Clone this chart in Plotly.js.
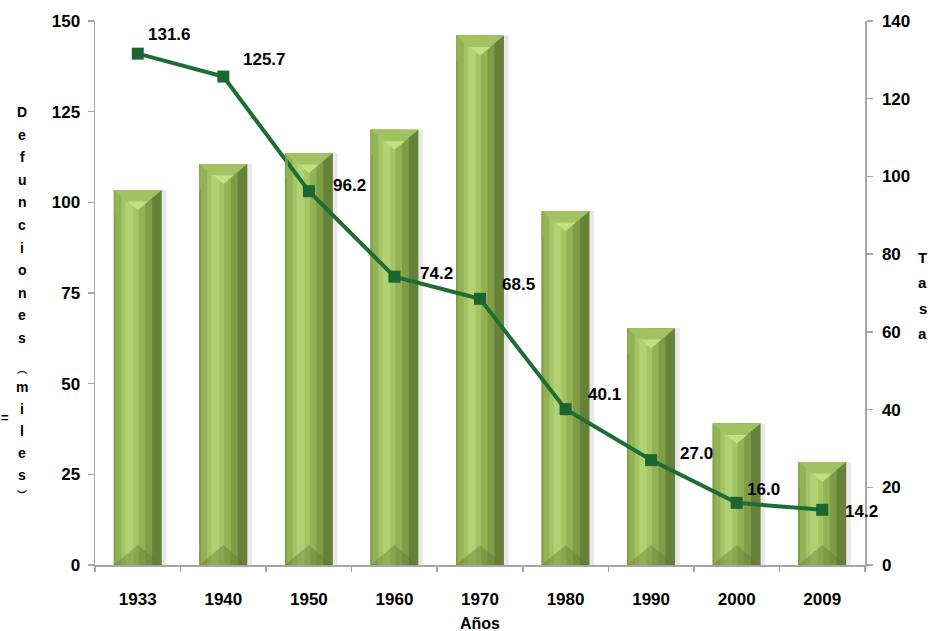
<!DOCTYPE html>
<html>
<head>
<meta charset="utf-8">
<script src="https://cdn.plot.ly/plotly-3.0.1.min.js"></script>
<style>
  html, body { margin: 0; padding: 0; background: #ffffff; }
  #chart { width: 930px; height: 631px; }
</style>
</head>
<body>
<div id="chart"></div>
<script>
// ---- data ----
const years = ['1933', '1940', '1950', '1960', '1970', '1980', '1990', '2000', '2009'];
const deaths = [103.4, 110.6, 113.6, 120, 146, 97.6, 65.3, 39, 28.4];      // Defunciones (miles)
const rate = [131.6, 125.7, 96.2, 74.2, 68.5, 40.1, 27.0, 16.0, 14.2];      // Tasa
const rateLabels = ['131.6', '125.7', '96.2', '74.2', '68.5', '40.1', '27.0', '16.0', '14.2'];
const leftTitleWord1 = 'Defunciones';
const leftTitleWord2 = 'miles';
const rightTitle = 'Tasa';
const xTitle = 'Años';

// ---- style / geometry (not data) ----
const FONT = '"Liberation Sans", Arial, sans-serif';
const labelShift = [[8, 19], [18, 17], [22, 6], [24, 3], [20, 14], [20, 15], [27, 7], [8, 13], [21, -2]];
const W = 0.56;          // bar width in category units
const Y_LEFT_MAX = 150, Y_RIGHT_MAX = 140;
const L = 95, T = 21, PW = 770, PH = 544;
const bevel = 20 * Y_LEFT_MAX / PH;   // ~20px bevel depth in y-units
const px2x = px => (px - L) / PW;
const py2y = py => (T + PH - py) / PH;

const idx = years.map((_, i) => i);

function strip(offset, width, color, name) {
  return {
    type: 'bar', x: idx, y: deaths, offset: offset, width: width,
    marker: { color: color, line: { width: 0 } }, hoverinfo: 'skip', showlegend: false, name: name
  };
}

const traces = [
  strip(-W / 2 + 0.035, W + 0.02, 'rgba(0,0,0,0.09)', 'shadow'),
  strip(-W / 2, W, '#66813a', 'body'),
  strip(-W / 2, W * 0.80, '#809d46', 'b1'),
  strip(-W / 2 + 0.02, W * 0.62, '#93b155', 'b2'),
  strip(-W / 2 + 0.09, W * 0.36, '#a5c464', 'b3'),
  strip(-W / 2 + 0.14, W * 0.16, '#b2d172', 'b4'),
  {
    type: 'scatter', mode: 'lines+markers', x: idx, y: rate, yaxis: 'y2',
    line: { color: '#1f6d35', width: 4 },
    marker: { symbol: 'square', size: 12, color: '#1b6630' },
    hoverinfo: 'skip', showlegend: false
  },
  // invisible trace so the boundary ticks axis renders
  { type: 'scatter', x: [0], y: [0], xaxis: 'x2', mode: 'markers', marker: { opacity: 0 }, hoverinfo: 'skip', showlegend: false }
];

// bevel shapes derived from data
const shapes = [];
deaths.forEach((v, i) => {
  const xl = i - W / 2, xr = i + W / 2, xc = i;
  shapes.push({
    type: 'path', xref: 'x', yref: 'y', layer: 'above',
    path: `M ${xl} ${v} L ${xr} ${v} L ${xc} ${v - bevel} Z`,
    fillcolor: '#a2c160', line: { width: 0 }
  });
  shapes.push({
    type: 'path', xref: 'x', yref: 'y', layer: 'above',
    path: `M ${xc - 0.12} ${v - bevel * 0.57} L ${xc + 0.12} ${v - bevel * 0.57} L ${xc} ${v - bevel} Z`,
    fillcolor: '#c3e183', line: { width: 0 }
  });
  shapes.push({
    type: 'path', xref: 'x', yref: 'y', layer: 'above',
    path: `M ${xl} ${v} L ${xl + 0.035} ${v} L ${xl + 0.035} ${v - bevel * 1.2} L ${xl} ${v - bevel * 1.3} Z`,
    fillcolor: 'rgba(150,185,85,0.6)', line: { width: 0 }
  });
  const bb = Math.min(bevel, v / 2);
  shapes.push({
    type: 'path', xref: 'x', yref: 'y', layer: 'above',
    path: `M ${xl} 0 L ${xr} 0 L ${xc} ${bb} Z`,
    fillcolor: 'rgba(95,120,50,0.4)', line: { width: 0 }
  });
});

// data labels
const annotations = rate.map((r, i) => ({
  x: i, y: r, xref: 'x', yref: 'y2', text: rateLabels[i], showarrow: false,
  xanchor: 'left', yanchor: 'middle', xshift: labelShift[i][0], yshift: labelShift[i][1],
  font: { family: FONT, size: 17, color: '#000000', weight: 'bold' }
}));

// stacked vertical axis titles, one letter per annotation
const letterFont = { family: FONT, size: 14, color: '#000', weight: 'bold' };
function letter(ch, px, py, size, family) {
  annotations.push({
    xref: 'paper', yref: 'paper', x: px2x(px), y: py2y(py), xanchor: 'center', yanchor: 'middle',
    text: ch, showarrow: false,
    font: Object.assign({}, letterFont, size ? { size: size } : {}, family ? { family: family } : {})
  });
}
const CJK = '"Noto Sans CJK SC", "Noto Sans CJK JP", sans-serif';
Array.from(leftTitleWord1).forEach((c, k) => letter(c, 22, 112 + 22.6 * k));
letter('︵', 22, 368, 10, CJK);
Array.from(leftTitleWord2).forEach((c, k) => letter(c, 22, 387 + 22 * k));
letter('︶', 22, 494, 10, CJK);
letter('=', 5, 417, 13);
Array.from(rightTitle).forEach((c, k) => letter(c, 923, 257 + 25.5 * k, 15));

annotations.push({
  xref: 'paper', yref: 'paper', x: px2x(480), y: py2y(623), xanchor: 'center', yanchor: 'middle',
  text: xTitle, showarrow: false,
  font: { family: FONT, size: 16, color: '#000', weight: 'bold' }
});

const tickFont = { family: FONT, size: 17, color: '#000000', weight: 'bold' };
const tickStyle = { ticks: 'outside', ticklen: 6, tickcolor: '#a6a6a6', tickwidth: 1.5 };

const layout = {
  width: 930, height: 631,
  margin: { l: L, r: 930 - L - PW, t: T, b: 631 - T - PH },
  paper_bgcolor: '#ffffff', plot_bgcolor: '#ffffff',
  barmode: 'overlay', showlegend: false,
  xaxis: {
    type: 'linear', range: [-0.5, years.length - 0.5],
    tickvals: idx, ticktext: years, ticks: '', showgrid: false, zeroline: false,
    showline: true, linecolor: '#a6a6a6', linewidth: 1.5,
    tickfont: tickFont, ticklabelstandoff: 18
  },
  xaxis2: Object.assign({
    overlaying: 'x', range: [-0.5, years.length - 0.5],
    tickvals: idx.concat([years.length]).map(v => v - 0.5), ticktext: idx.concat([years.length]).map(() => ''),
    showgrid: false, zeroline: false, showline: false, side: 'bottom'
  }, tickStyle),
  yaxis: Object.assign({
    range: [0, Y_LEFT_MAX], tickvals: [0, 25, 50, 75, 100, 125, 150],
    showline: true, linecolor: '#a6a6a6', linewidth: 1.5,
    showgrid: false, zeroline: false, tickfont: tickFont, ticklabelstandoff: 4
  }, tickStyle),
  yaxis2: Object.assign({
    overlaying: 'y', side: 'right', range: [0, Y_RIGHT_MAX],
    tickvals: [0, 20, 40, 60, 80, 100, 120, 140],
    showline: true, linecolor: '#a6a6a6', linewidth: 1.5,
    showgrid: false, zeroline: false, tickfont: tickFont, ticklabelstandoff: 6
  }, tickStyle),
  shapes: shapes,
  annotations: annotations
};

Plotly.newPlot('chart', traces, layout, { displayModeBar: false, staticPlot: true });
</script>
</body>
</html>
